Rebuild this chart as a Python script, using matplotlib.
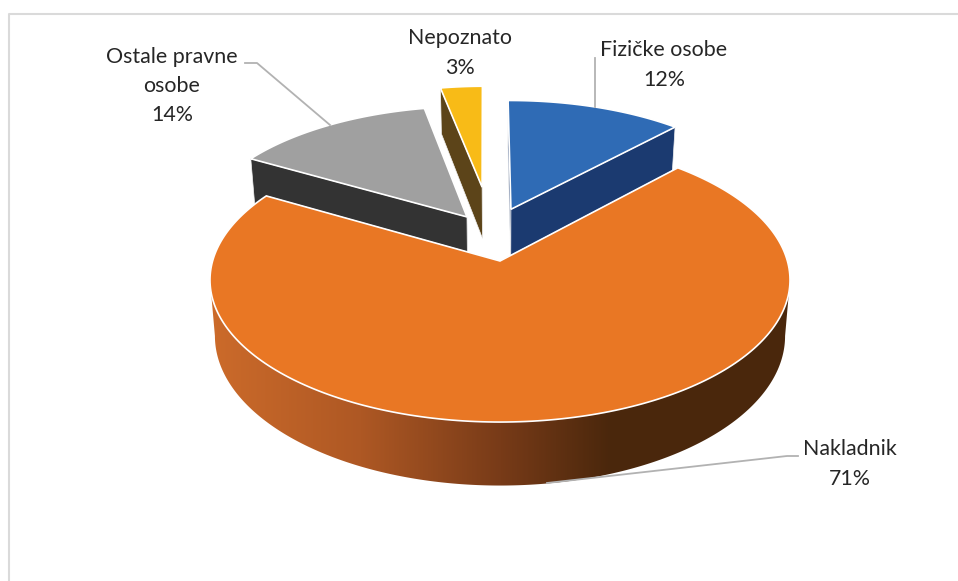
import matplotlib
matplotlib.use("Agg")
import matplotlib.pyplot as plt
from matplotlib.patches import Polygon
import numpy as np

# Podaci (oznake su zaokružene na cijeli postotak)
names = ["Fizičke osobe", "Nakladnik", "Ostale pravne\nosobe", "Nepoznato"]
values = [12, 71.4, 13.6, 3]

# Izgled kriski
top_colors = ["#2F6BB5", "#E97724", "#A0A0A0", "#F8BB17"]
wall_colors = ["#1B3A70", "#4A270C", "#333333", "#5C4419"]
radii = [0.97, 1.0, 0.97, 0.935]
explode_x = [0.04, 0.0, -0.12, -0.067]
explode_y = [0.39, 0.0, 0.33, 0.57]
draw_order = [0, 2, 3, 1]
start_angle = -0.4

# Perspektiva (pikseli slike)
cx, cy = 500.0, 261.0
sx, sy = 287.4, 139.5
k = 0.1338
depth = 55.0
shrink = 0.983

# Pozicije oznaka
label_x = [664, 850, 172, 460]
label_y = [65, 464, 86, 53]
leaders = [
    ([595, 595], [58, 107]),
    ([798, 787, 547], [456, 456, 483]),
    ([245, 257, 330], [63, 63, 125]),
]

# Gradijent prednje stijenke
grad_x = [216, 360, 500, 610, 790]
grad_rgb = np.array([[0xCB, 0x6A, 0x2A], [0xAE, 0x58, 0x24],
                     [0x78, 0x3B, 0x18], [0x4A, 0x27, 0x0C], [0x4A, 0x27, 0x0C]]) / 255


def project(x, y, down=False):
    w = 1 + k * y
    px = sx * x / w
    py = sy * y / w
    if down:
        return cx + px * shrink, cy - py + depth / w
    return cx + px, cy - py


def rim(i, a):
    a = np.radians(a)
    return explode_x[i] + radii[i] * np.sin(a), explode_y[i] + radii[i] * np.cos(a)


fig = plt.figure(figsize=(9.58, 5.81), dpi=100)
ax = fig.add_axes([0, 0, 1, 1])
ax.axis("off")

# okvir grafikona (vidi se samo lijevo i gore)
ax.plot([9.5, 9.5, 958], [581, 13.5, 13.5], color="#DADADA", lw=1.5, zorder=0)

edges = np.cumsum([0] + values) / sum(values) * 360 + start_angle

for z, i in enumerate(draw_order):
    a0, a1 = edges[i], edges[i + 1]
    angles = np.linspace(a0, a1, 241)
    xs, ys = rim(i, angles)
    ox, oy = explode_x[i], explode_y[i]

    # radijalne stijenke, prvo ona dalja
    for a in sorted((a0, a1), key=lambda v: -rim(i, v)[1]):
        ex, ey = rim(i, a)
        p1 = project(ox, oy)
        p2 = project(ex, ey)
        p3 = project(ex, ey, True)
        p4 = project(ox, oy, True)
        ax.add_patch(Polygon([p1, p2, p3, p4], fc=wall_colors[i], ec="#F2F2F2", lw=0.5, zorder=z * 3 + 1))

    # vanjska stijenka samo za veliku krisku, od lijeve do desne tangente
    if i == 1:
        tang = np.degrees(np.arccos(-k))
        front = np.linspace(tang, 360 - tang, 241)
        fx, fy = rim(i, front)
        tx, ty = project(fx, fy)
        bx, by = project(fx, fy, True)
        outline = np.column_stack([np.r_[tx, bx[::-1]], np.r_[ty, by[::-1]]])
        clip = Polygon(outline, fc="none", ec="none", transform=ax.transData)
        ax.add_patch(clip)
        gx = np.arange(200, 800)
        strip = np.stack([np.interp(gx, grad_x, grad_rgb[:, j]) for j in range(3)], axis=-1)[None, :, :]
        im = ax.imshow(strip, extent=(200, 800, 500, 250), aspect="auto", zorder=z * 3 + 2)
        im.set_clip_path(clip)

    tx, ty = project(xs, ys)
    ax0, ay0 = project(ox, oy)
    pts = np.column_stack([np.r_[ax0, tx], np.r_[ay0, ty]])
    ax.add_patch(Polygon(pts, fc=top_colors[i], ec="#FFFFFF", lw=1.2, zorder=z * 3 + 3))

for lx, ly in leaders:
    ax.plot(lx, ly, color="#B2B2B2", lw=1.3, zorder=20, solid_joinstyle="round")

for i, name in enumerate(names):
    ax.text(label_x[i], label_y[i], f"{name}\n{round(values[i])}%", ha="center", va="center",
            family="Lato", fontsize=15.4, color="#262626", linespacing=1.58, zorder=21)

ax.set_xlim(0, 958)
ax.set_ylim(581, 0)

fig.savefig("out.png", dpi=100)
